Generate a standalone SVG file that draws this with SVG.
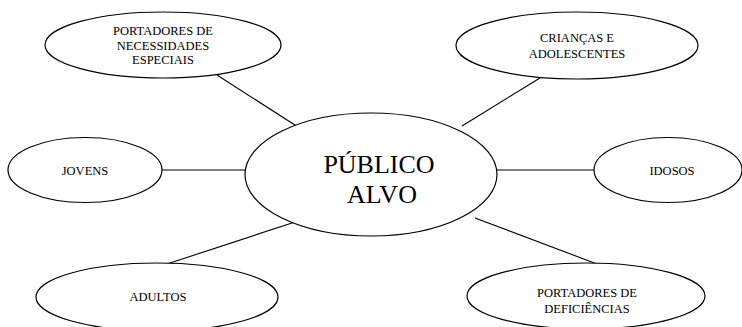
<svg xmlns="http://www.w3.org/2000/svg" width="742" height="327" viewBox="0 0 742 327" font-family="'Liberation Serif', 'Times New Roman', 'DejaVu Serif', serif">
<style>
.n{fill:#fff;stroke:#000;stroke-width:1.2}
text{font-family:'Liberation Serif','Times New Roman','DejaVu Serif',serif;font-size:12.5px;fill:#000;text-anchor:middle}
text.big{font-size:26px}
.c line{stroke:#000;stroke-width:1.1}
</style>
<rect width="742" height="327" fill="#fff"/>
<g class="c" id="connectors">
<line x1="217" y1="75" x2="298" y2="127"/>
<line x1="540" y1="78" x2="462" y2="126"/>
<line x1="162" y1="170" x2="245" y2="170"/>
<line x1="494" y1="170" x2="594" y2="170"/>
<line x1="167" y1="264" x2="295" y2="222"/>
<line x1="597" y1="264" x2="475" y2="218"/>
</g>
<g id="center">
<ellipse class="n" cx="371" cy="174.5" rx="126" ry="61.5"/>
<text class="big" x="379" y="173">PÚBLICO</text>
<text class="big" x="382" y="203">ALVO</text>
</g>
<g id="necessidades">
<ellipse class="n" cx="163" cy="45" rx="118" ry="33"/>
<text x="163" y="35">PORTADORES DE</text>
<text x="163" y="49.5">NECESSIDADES</text>
<text x="163" y="64">ESPECIAIS</text>
</g>
<g id="criancas">
<ellipse class="n" cx="577" cy="45.5" rx="121" ry="33.5"/>
<text x="577" y="41.5">CRIANÇAS E</text>
<text x="577" y="58">ADOLESCENTES</text>
</g>
<g id="jovens">
<ellipse class="n" cx="85" cy="170" rx="77" ry="32.5"/>
<text x="85" y="175">JOVENS</text>
</g>
<g id="idosos">
<ellipse class="n" cx="668" cy="170" rx="74" ry="32.5"/>
<text x="672" y="175">IDOSOS</text>
</g>
<g id="adultos">
<ellipse class="n" cx="157" cy="297" rx="121" ry="34"/>
<text x="158" y="301">ADULTOS</text>
</g>
<g id="deficiencias">
<ellipse class="n" cx="586" cy="296" rx="119" ry="33"/>
<text x="587" y="297">PORTADORES DE</text>
<text x="587" y="313">DEFICIÊNCIAS</text>
</g>
</svg>
